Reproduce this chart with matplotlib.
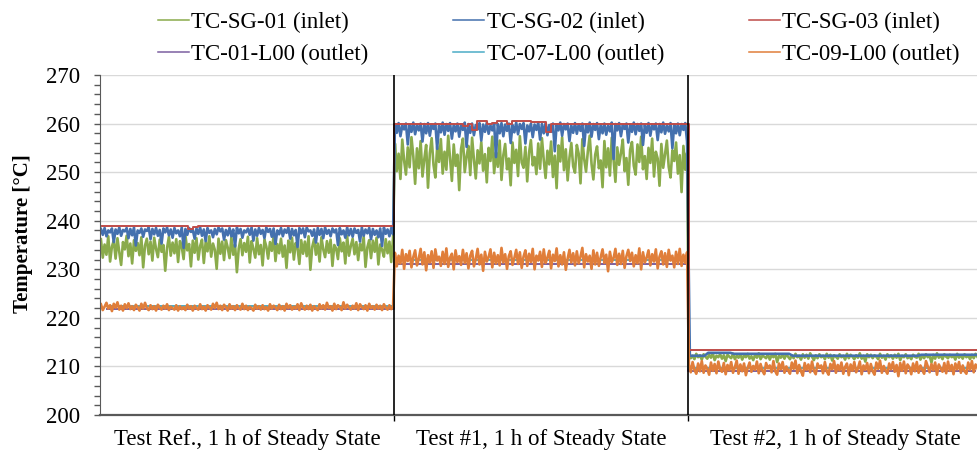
import numpy as np
import matplotlib
matplotlib.use("Agg")
import matplotlib.pyplot as plt
from matplotlib.ticker import MultipleLocator, FixedLocator

plt.rcParams['font.family'] = ['Liberation Serif', 'DejaVu Serif']

# ---- categories / labels ----
test_labels = ["Test Ref., 1 h of Steady State",
               "Test #1, 1 h of Steady State",
               "Test #2, 1 h of Steady State"]
series_names = ["TC-SG-01 (inlet)", "TC-SG-02 (inlet)", "TC-SG-03 (inlet)",
                "TC-01-L00 (outlet)", "TC-07-L00 (outlet)", "TC-09-L00 (outlet)"]
y_ticks = [200, 210, 220, 230, 240, 250, 260, 270]

# ---- TC-SG-01 (inlet) ----
sg01_ref = [236.2, 232.4, 235.1, 233.0, 236.8, 231.6, 234.7, 235.9, 232.2, 236.4,
            233.5, 230.9, 235.6, 234.1, 236.9, 232.7, 235.3, 231.2, 236.0, 233.8,
            235.4, 232.9, 236.6, 230.4, 234.9, 236.3, 233.1, 235.7, 231.8, 236.5,
            234.2, 232.5, 236.1, 233.6, 235.0, 229.7, 234.4, 236.7, 232.8, 235.5,
            233.3, 236.2, 231.5, 235.8, 234.6, 232.1, 236.9, 233.9, 235.2, 230.6,
            235.9, 233.4, 236.4, 232.0, 234.8, 236.1, 231.3, 235.6, 233.7, 236.8,
            232.6, 235.3, 234.0, 230.1, 236.3, 233.2, 235.7, 231.9, 236.0, 234.5,
            232.3, 236.6, 233.0, 235.1, 229.4, 234.3, 236.2, 232.9, 235.4, 233.6,
            236.7, 231.4, 235.8, 234.2, 232.4, 236.4, 233.1, 235.0, 230.8, 236.1,
            234.7, 232.2, 235.6, 233.8, 236.9, 231.7, 235.2, 233.3, 236.3, 232.6,
            234.9, 230.3, 235.9, 233.5, 236.5, 232.0, 235.4, 234.4, 231.1, 236.0,
            233.2, 235.7, 232.7, 236.8, 229.9, 234.6, 236.2, 233.0, 235.3, 231.6,
            236.6, 234.1, 232.5, 235.8, 233.4, 236.1, 230.7, 235.0, 234.3, 232.1,
            236.4, 233.7, 235.5, 231.2, 236.9, 232.8, 234.8, 236.3, 233.1, 235.6,
            231.9, 235.2, 233.9, 236.7, 230.5, 234.5, 236.0, 232.3, 235.9, 233.6,
            236.5, 231.0, 235.1, 234.0, 232.6, 236.2, 233.3, 235.7, 231.5, 236.4]
sg01_t1 = [255.9, 250.2, 253.8, 248.6, 256.7, 252.4, 249.5, 255.1, 251.0, 257.2,
           253.3, 247.6, 254.9, 250.8, 256.4, 249.1, 252.7, 255.6, 246.8, 253.9,
           257.0, 251.5, 248.9, 255.3, 252.1, 256.8, 249.7, 254.2, 250.5, 257.5,
           252.9, 248.2, 255.7, 251.3, 253.6, 246.3, 254.8, 256.9, 250.0, 253.2,
           255.4, 249.4, 257.1, 252.6, 248.7, 254.5, 251.8, 256.2, 250.3, 253.7,
           247.9, 255.0, 252.3, 257.3, 249.8, 254.1, 251.1, 256.5, 248.4, 253.5,
           255.8, 250.6, 252.8, 247.3, 256.1, 251.9, 254.6, 249.2, 257.4, 252.0,
           250.9, 255.2, 248.1, 254.0, 256.6, 251.4, 253.1, 249.6, 255.9, 250.7,
           257.0, 252.5, 248.8, 254.4, 251.6, 256.3, 249.0, 253.4, 246.7, 255.5,
           252.2, 257.2, 250.4, 254.7, 248.3, 253.0, 256.0, 251.2, 249.9, 255.6,
           253.8, 247.7, 256.8, 252.7, 250.1, 254.3, 257.5, 251.7, 248.5, 253.6,
           255.3, 250.8, 252.4, 246.9, 256.4, 251.0, 254.9, 249.3, 257.1, 252.6,
           248.0, 255.1, 251.5, 253.9, 256.7, 250.2, 252.9, 247.4, 254.6, 256.2,
           251.3, 249.5, 255.7, 252.1, 257.3, 250.6, 253.3, 248.6, 255.0, 251.9,
           256.9, 249.1, 254.2, 252.8, 247.2, 255.8, 250.9, 253.7, 256.5, 251.1,
           248.9, 254.5, 252.3, 256.1, 249.7, 253.5, 245.9, 255.4, 250.5, 254.0]
sg01_t2 = [212.4, 211.7, 212.2, 211.5, 212.6, 211.9, 212.3, 211.4, 212.5, 212.0,
           211.6, 212.4, 211.8, 212.7, 211.3, 212.2, 211.9, 212.5, 211.6, 212.3,
           211.1, 212.4, 212.0, 211.7, 212.6, 211.5, 212.2, 211.8, 212.5, 211.4,
           212.3, 211.9, 212.6, 211.6, 212.1, 211.3, 212.4, 211.8, 212.7, 211.5,
           212.2, 212.0, 211.7, 212.5, 211.4, 212.3, 211.9, 212.6, 210.9, 212.2,
           211.8, 212.4, 211.6, 212.5, 212.0, 211.5, 212.3, 211.7, 212.6, 211.9,
           212.2, 211.4, 212.5, 211.8, 212.4, 211.6, 212.7, 212.0, 211.3, 212.3,
           211.7, 212.5, 211.9, 212.2, 211.5, 212.6, 211.8, 212.4, 211.2, 212.3,
           212.0, 211.6, 212.5, 211.9, 212.2, 211.4, 212.6, 211.7, 212.4, 212.0,
           211.5, 212.3, 211.8, 212.7, 211.6, 212.2, 211.0, 212.5, 211.9, 212.4,
           211.7, 212.3, 212.0, 211.5, 212.6, 211.8, 212.2, 211.4, 212.5, 211.9,
           212.3, 211.6, 212.4, 211.8, 212.6, 211.3, 212.2, 211.9, 212.5, 211.7,
           212.1, 211.5, 212.4, 212.0, 211.8, 212.6, 211.4, 212.3, 211.7, 212.5,
           211.9, 212.2, 210.8, 212.4, 211.6, 212.7, 211.8, 212.3, 211.5, 212.5,
           212.0, 211.7, 212.4, 211.9, 212.2, 211.4, 212.6, 211.8, 212.3, 211.6,
           212.5, 211.9, 212.2, 211.5, 212.4, 211.7, 212.6, 212.0, 211.3, 212.3]

# ---- TC-SG-02 (inlet) ----
sg02_ref = [238.3, 237.1, 238.5, 236.8, 238.0, 237.6, 238.4, 235.6, 238.2, 237.3,
            238.6, 236.9, 238.1, 237.8, 238.5, 236.4, 238.3, 237.0, 238.6, 234.9,
            238.0, 237.5, 238.4, 236.7, 238.2, 237.9, 238.6, 236.2, 238.3, 237.2,
            238.5, 236.9, 238.1, 235.3, 238.4, 237.6, 238.6, 237.0, 238.2, 236.5,
            238.5, 237.4, 238.0, 236.8, 238.6, 234.4, 238.3, 237.1, 238.5, 237.7,
            238.1, 236.3, 238.4, 237.3, 238.6, 236.9, 238.2, 235.8, 238.5, 237.5,
            238.0, 236.6, 238.3, 237.2, 238.6, 237.8, 238.4, 236.1, 238.1, 237.0,
            238.5, 236.8, 238.2, 234.7, 238.6, 237.4, 238.3, 236.5, 238.0, 237.6,
            238.4, 237.1, 238.6, 235.9, 238.2, 236.9, 238.5, 237.3, 238.1, 236.4,
            238.6, 237.7, 238.3, 236.7, 238.4, 235.2, 238.0, 237.2, 238.5, 236.8,
            238.2, 237.5, 238.6, 236.3, 238.3, 237.0, 238.1, 234.6, 238.5, 237.4,
            238.4, 236.6, 238.6, 237.8, 238.0, 236.9, 238.2, 235.5, 238.5, 237.1,
            238.3, 236.4, 238.6, 237.3, 238.1, 236.8, 238.4, 237.6, 238.2, 235.0,
            238.5, 237.2, 238.0, 236.5, 238.6, 237.0, 238.3, 236.7, 238.4, 237.5,
            238.1, 235.7, 238.6, 236.9, 238.2, 237.4, 238.5, 236.2, 238.3, 237.1,
            238.0, 236.6, 238.4, 234.8, 238.6, 237.3, 238.2, 236.8, 238.5, 237.2]
sg02_t1 = [259.9, 258.1, 260.1, 257.4, 259.6, 258.8, 260.0, 255.7, 259.8, 258.3,
           260.2, 257.8, 259.7, 258.6, 260.0, 256.3, 259.9, 258.0, 260.1, 257.5,
           259.8, 258.9, 260.0, 254.8, 259.6, 258.2, 260.2, 257.7, 259.9, 258.5,
           260.1, 256.9, 259.7, 258.4, 260.0, 257.3, 259.8, 258.7, 260.2, 255.2,
           259.9, 258.1, 260.0, 257.6, 259.7, 258.8, 260.1, 256.5, 259.8, 258.3,
           260.2, 257.9, 259.6, 258.6, 260.0, 253.1, 259.9, 258.0, 260.1, 257.4,
           259.8, 258.5, 260.0, 256.0, 259.7, 258.2, 260.2, 257.8, 259.9, 258.9,
           260.1, 255.9, 259.6, 258.4, 260.0, 257.2, 259.8, 258.7, 260.2, 256.7,
           259.9, 258.0, 260.1, 257.6, 259.7, 258.3, 260.0, 254.3, 259.8, 258.6,
           260.2, 257.5, 259.9, 258.8, 260.0, 256.4, 259.6, 258.1, 260.1, 257.9,
           259.8, 258.5, 260.0, 255.4, 259.7, 258.2, 260.2, 257.3, 259.9, 258.7,
           260.1, 256.8, 259.8, 258.0, 260.0, 257.7, 259.6, 258.4, 260.2, 252.7,
           259.9, 258.6, 260.1, 257.4, 259.7, 258.9, 260.0, 256.1, 259.8, 258.3,
           260.2, 257.8, 259.9, 258.5, 260.0, 255.6, 259.7, 258.1, 260.1, 257.5,
           259.8, 258.8, 260.0, 256.6, 259.9, 258.2, 260.2, 257.9, 259.6, 258.4,
           260.1, 254.9, 259.8, 258.0, 260.0, 257.6, 259.9, 258.7, 260.1, 256.3]
sg02_t2 = [212.2, 212.2, 212.2, 212.2, 212.2, 212.8, 212.8, 212.8, 212.8, 212.8,
           212.8, 212.8, 212.6, 212.6, 212.6, 212.6, 212.6, 212.6, 212.6, 212.6,
           212.6, 212.6, 212.6, 212.6, 212.6, 212.6, 212.6, 212.6, 212.2, 212.2,
           212.2, 212.2, 212.2, 212.2, 212.2, 212.2, 212.2, 212.2, 212.2, 212.2,
           212.2, 212.2, 212.2, 212.2, 212.2, 212.2, 212.2, 212.2, 212.2, 212.2,
           212.2, 212.2, 212.2, 212.2, 212.2, 212.2, 212.2, 212.2, 212.2, 212.2,
           212.2, 212.2, 212.2, 212.4, 212.4, 212.4, 212.4, 212.4, 212.4, 212.4,
           212.4, 212.4, 212.4, 212.4, 212.4, 212.4, 212.4, 212.4, 212.4, 212.4]

# ---- TC-SG-03 (inlet) ----
sg03_ref = [239.0, 239.0, 239.0, 239.0, 239.0, 239.0, 239.0, 239.0, 239.0, 239.0,
            239.0, 239.0, 239.0, 239.0, 239.0, 239.0, 239.0, 239.0, 238.3, 238.8,
            239.0, 239.0, 239.0, 239.0, 239.0, 239.0, 239.0, 239.0, 239.0, 239.0,
            239.0, 239.0, 239.0, 239.0, 239.0, 239.0, 239.0, 239.0, 239.0, 239.0,
            239.0, 239.0, 239.0, 239.0, 239.0, 239.0, 239.0, 239.0, 239.0, 239.0,
            239.0, 239.0, 239.0, 239.0, 239.0, 239.0, 239.0, 239.0, 239.0, 239.0]
sg03_t1 = [260.0, 260.0, 260.0, 260.0, 260.0, 260.0, 260.0, 260.0, 260.0, 260.0,
           260.0, 260.0, 260.0, 260.0, 259.4, 260.0, 258.7, 260.6, 260.6, 260.0,
           260.1, 260.6, 260.6, 260.0, 260.6, 260.6, 260.6, 260.6, 260.3, 260.3,
           260.3, 258.2, 260.0, 260.0, 260.0, 260.0, 260.0, 260.0, 260.0, 260.0,
           260.0, 260.0, 260.0, 260.0, 260.0, 260.0, 260.0, 260.0, 260.0, 260.0,
           260.0, 260.0, 260.0, 260.0, 260.0, 260.0, 260.0, 260.0, 260.0, 260.0]
sg03_t2 = [213.4, 213.4, 213.4, 213.4, 213.4, 213.4, 213.4, 213.4, 213.4, 213.4,
           213.4, 213.4, 213.4, 213.4, 213.4, 213.4, 213.4, 213.4, 213.4, 213.4,
           213.4, 213.4, 213.4, 213.4, 213.4, 213.4, 213.4, 213.4, 213.4, 213.4]

# ---- TC-01-L00 (outlet) ----
l01_ref = [221.8, 221.8, 221.8, 221.8, 221.8, 221.8, 221.8, 221.8, 221.8, 221.8,
           221.8, 221.8, 221.8, 221.8, 221.8, 221.8, 221.8, 221.8, 221.8, 221.8]
l01_t1 = [231.1, 231.1, 231.1, 231.1, 231.1, 231.1, 231.1, 231.1, 231.1, 231.1,
          231.1, 231.1, 231.1, 231.1, 231.1, 231.1, 231.1, 231.1, 231.1, 231.1]
l01_t2 = [209.0, 209.0, 209.0, 209.0, 209.0, 209.0, 209.0, 209.0, 209.0, 209.0,
          209.0, 209.0, 209.0, 209.0, 209.0, 209.0, 209.0, 209.0, 209.0, 209.0]

# ---- TC-07-L00 (outlet) ----
l07_ref = [222.5, 222.5, 222.5, 222.5, 222.5, 222.5, 222.4, 222.4, 222.5, 222.5,
           222.5, 222.5, 222.5, 222.5, 222.5, 222.5, 222.5, 222.5, 222.5, 222.5]
l07_t1 = [231.9, 231.9, 231.9, 231.9, 231.9, 231.9, 231.9, 231.9, 231.9, 231.9,
          231.9, 231.9, 231.9, 231.9, 231.9, 231.9, 231.9, 231.9, 231.9, 231.9]
l07_t2 = [209.6, 209.6, 209.6, 209.6, 209.6, 209.6, 209.6, 209.6, 209.6, 209.6,
          209.6, 209.6, 209.6, 209.6, 209.6, 209.6, 209.6, 209.6, 209.6, 209.6]

# ---- TC-09-L00 (outlet) ----
l09_ref = [222.8, 221.6, 222.3, 223.1, 221.9, 222.6, 221.4, 222.9, 222.1, 223.2,
           221.7, 222.5, 221.5, 222.8, 222.0, 223.0, 221.8, 222.4, 221.6, 222.7,
           222.2, 221.5, 222.9, 221.9, 223.1, 222.0, 221.6, 222.6, 221.8, 222.4,
           221.5, 222.7, 222.1, 221.7, 222.5, 221.9, 222.8, 221.6, 222.3, 222.0,
           221.7, 222.6, 221.5, 222.4, 221.8, 222.2, 221.6, 222.7, 221.9, 222.4,
           221.5, 222.5, 222.0, 221.7, 222.8, 221.8, 222.3, 221.5, 222.6, 222.1,
           221.7, 222.9, 222.0, 223.1, 221.8, 222.5, 221.6, 222.7, 222.2, 221.5,
           222.8, 221.9, 222.4, 221.6, 222.6, 222.0, 221.7, 222.9, 221.8, 222.5,
           221.6, 222.3, 222.0, 221.5, 222.7, 221.9, 222.4, 221.7, 222.6, 221.8,
           222.2, 221.5, 222.8, 221.9, 222.5, 222.1, 221.6, 222.7, 221.8, 222.4,
           221.5, 222.9, 222.0, 222.6, 221.7, 222.3, 221.9, 222.8, 221.6, 223.0,
           222.1, 221.7, 222.5, 221.8, 222.7, 221.5, 222.4, 222.0, 221.6, 222.8,
           221.9, 222.6, 221.7, 223.1, 222.0, 222.4, 221.5, 222.9, 221.8, 222.6,
           222.2, 221.6, 223.2, 221.9, 222.7, 222.1, 221.7, 222.5, 221.9, 223.0,
           221.6, 222.8, 222.2, 221.8, 222.6, 221.5, 222.9, 222.0, 222.4, 221.7,
           222.7, 221.9, 222.5, 221.6, 222.8, 222.1, 221.7, 222.6, 221.8, 222.3]
l09_t1 = [233.4, 230.6, 232.8, 231.2, 234.0, 230.1, 233.1, 231.7, 233.8, 230.4,
          232.5, 233.9, 230.8, 232.2, 234.2, 231.0, 233.5, 229.8, 232.9, 231.4,
          233.7, 230.3, 234.1, 231.8, 232.6, 230.7, 233.6, 231.1, 234.3, 230.5,
          232.4, 233.2, 230.0, 233.9, 231.5, 232.7, 230.9, 234.0, 231.3, 233.3,
          230.2, 232.8, 233.8, 230.6, 232.1, 234.2, 231.0, 233.0, 229.7, 233.6,
          231.6, 232.5, 234.1, 230.4, 233.4, 231.2, 232.9, 230.8, 234.4, 231.4,
          233.1, 230.1, 232.7, 233.7, 230.9, 232.3, 234.0, 231.1, 233.5, 230.3,
          232.6, 233.9, 230.7, 233.2, 231.5, 234.2, 230.0, 232.8, 231.8, 233.6,
          230.5, 234.1, 231.3, 232.4, 233.8, 230.2, 233.0, 231.7, 234.3, 230.6,
          232.9, 231.0, 233.5, 229.9, 232.2, 234.0, 231.4, 233.3, 230.8, 233.7,
          231.2, 232.6, 234.4, 230.4, 233.1, 231.6, 232.8, 230.1, 233.9, 231.0,
          233.4, 230.7, 232.5, 234.1, 231.3, 233.0, 229.6, 233.6, 231.5, 232.3,
          234.2, 230.9, 233.2, 231.1, 233.8, 230.3, 232.7, 234.0, 231.7, 233.4,
          230.6, 232.9, 231.2, 234.3, 230.0, 233.5, 231.4, 232.4, 233.9, 230.8,
          233.1, 231.6, 234.1, 230.2, 232.6, 233.7, 231.0, 233.3, 230.5, 234.0,
          231.8, 232.8, 230.4, 233.6, 231.1, 234.2, 230.7, 233.0, 231.3, 233.5]
l09_t2 = [210.4, 208.8, 210.9, 209.3, 208.5, 210.6, 209.0, 211.1, 208.7, 210.2,
          209.5, 208.3, 210.8, 209.1, 210.5, 208.6, 211.0, 209.4, 208.9, 210.7,
          208.4, 210.3, 209.2, 210.9, 208.7, 209.8, 211.2, 208.5, 210.4, 209.0,
          210.6, 208.2, 209.7, 210.8, 208.9, 210.1, 209.3, 211.0, 208.6, 210.5,
          209.1, 208.4, 210.7, 209.6, 210.2, 208.8, 211.1, 209.0, 208.3, 210.6,
          209.4, 210.9, 208.7, 210.0, 209.2, 208.5, 210.8, 209.5, 211.2, 208.6,
          210.3, 209.0, 208.1, 210.7, 209.3, 210.4, 208.8, 211.0, 209.1, 208.4,
          210.6, 209.7, 210.2, 208.6, 210.9, 209.0, 208.3, 210.5, 209.4, 211.1,
          208.7, 210.3, 209.2, 210.8, 208.5, 209.9, 210.6, 208.2, 210.4, 209.1,
          210.9, 208.8, 209.6, 211.0, 208.4, 210.2, 209.3, 210.7, 208.6, 210.5,
          209.0, 208.3, 210.8, 209.5, 211.2, 208.7, 210.1, 209.2, 208.5, 210.6,
          209.4, 210.9, 208.9, 210.3, 208.0, 210.7, 209.1, 211.0, 208.6, 210.4,
          209.8, 208.4, 210.6, 209.0, 210.9, 208.7, 210.2, 209.3, 208.5, 211.1,
          210.0, 208.8, 210.5, 209.2, 210.8, 208.3, 210.4, 209.6, 208.9, 210.7,
          208.6, 211.0, 209.1, 210.3, 208.4, 210.6, 209.4, 210.9, 208.7, 210.2,
          209.0, 208.5, 210.8, 209.3, 211.1, 208.8, 210.4, 209.7, 208.6, 210.5]

colors = ['#8aab4b', '#4470ae', '#bf4c49', '#7c5fa0', '#4bacc6', '#e07e3a']


def timeline(*panels):
    """Place each test's samples evenly across its own category slot."""
    xs, ys = [], []
    for k, vals in enumerate(panels):
        n = len(vals)
        xs.append(k + (np.arange(n) + 0.5) / n)
        ys.append(np.asarray(vals, dtype=float))
    return np.concatenate(xs), np.concatenate(ys)


# (data, draw style, line width)
series = [
    (timeline(sg01_ref, sg01_t1, sg01_t2), 'default', 1.9),
    (timeline(sg02_ref, sg02_t1, sg02_t2), 'default', 1.9),
    (timeline(sg03_ref, sg03_t1, sg03_t2), 'steps-mid', 1.4),
    (timeline(l01_ref, l01_t1, l01_t2), 'steps-mid', 1.4),
    (timeline(l07_ref, l07_t1, l07_t2), 'steps-mid', 1.4),
    (timeline(l09_ref, l09_t1, l09_t2), 'default', 1.9),
]

fig = plt.figure(figsize=(9.77, 4.51), dpi=100)
ax = fig.add_axes([100 / 977, 36 / 451, 877 / 977, 340 / 451])

handles = []
for ((x, y), ds, lw), name, c in zip(series, series_names, colors):
    h, = ax.plot(x, y, color=c, lw=lw, drawstyle=ds, label=name)
    handles.append(h)

ax.set_xlim(0, 877 / 294)
ax.set_ylim(200, 270)

# y axis
ax.yaxis.set_major_locator(FixedLocator(y_ticks))
ax.yaxis.set_minor_locator(MultipleLocator(2))
ax.tick_params(axis='y', which='major', direction='out', length=4,
               width=1, color='#595959', labelsize=16.5, pad=10.5)
ax.tick_params(axis='y', which='minor', direction='out', length=4,
               width=1, color='#595959')
ax.grid(axis='y', which='major', color='#d9d9d9', lw=1)
ax.set_axisbelow(True)
ax.set_ylabel("Temperature [°C]", fontsize=15, fontweight='bold')
ax.yaxis.set_label_coords(-67 / 877, (415 - 234) / 340)

# x axis: separators between tests, labels centred in each slot
ax.set_xticks([1, 2])
ax.set_xticklabels(['', ''])
ax.set_xticks([0.5, 1.5, 2.5], minor=True)
ax.set_xticklabels(test_labels, minor=True)
ax.tick_params(axis='x', which='major', direction='out', length=4,
               width=1, color='black')
ax.tick_params(axis='x', which='minor', length=0, labelsize=16.5, pad=10.4)
for xb in (1, 2):
    ax.axvline(xb, color='black', lw=1.2, zorder=3)

for s in ('top', 'right'):
    ax.spines[s].set_visible(False)
ax.spines['left'].set_color('#595959')
ax.spines['bottom'].set_color('#595959')
ax.spines['bottom'].set_linewidth(1.6)

# legend: three columns, filled row by row
order = [0, 3, 1, 4, 2, 5]
leg = fig.legend([handles[i] for i in order], [series_names[i] for i in order],
                 ncol=3, loc='upper left',
                 bbox_to_anchor=(149 / 977, 1.0 - 3 / 451),
                 frameon=False, fontsize=16.5, handlelength=1.35,
                 handletextpad=0.1, columnspacing=3.7, labelspacing=0.46,
                 borderaxespad=0.0)
for line in leg.get_lines():
    line.set_linewidth(1.1)

fig.savefig("out.png", dpi=100)
